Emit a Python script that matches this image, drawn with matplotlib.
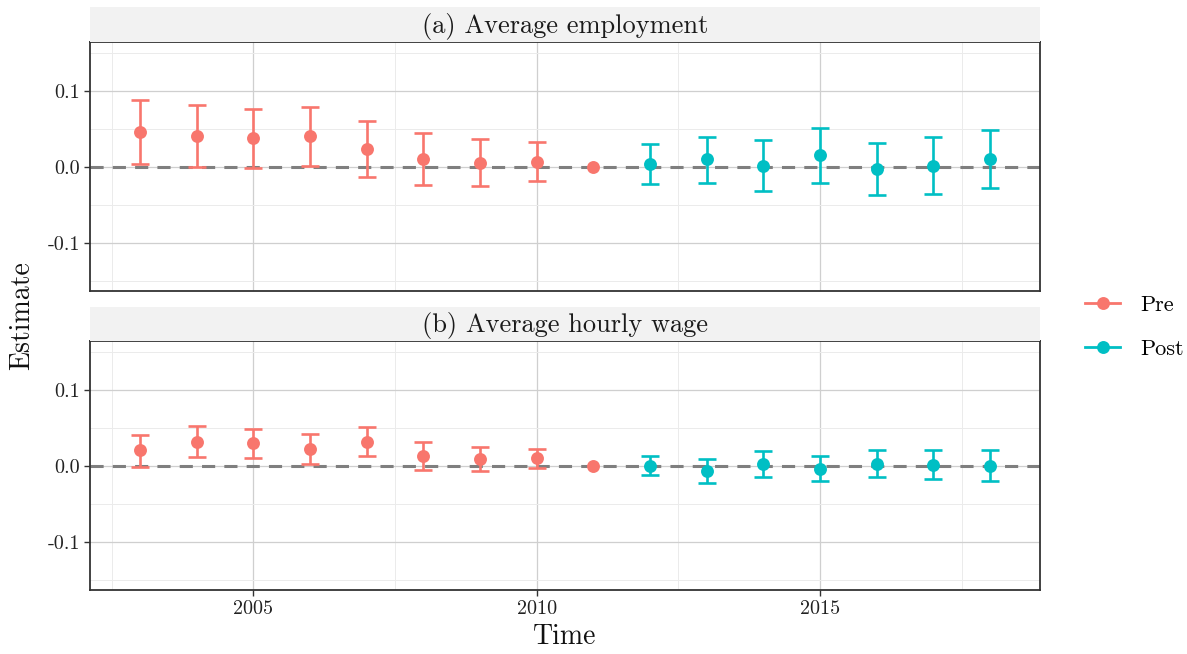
import matplotlib
matplotlib.use("Agg")
import matplotlib.pyplot as plt
from matplotlib.lines import Line2D
import numpy as np

years = [2003, 2004, 2005, 2006, 2007, 2008, 2009, 2010, 2011,
         2012, 2013, 2014, 2015, 2016, 2017, 2018]
period = ["Pre"] * 9 + ["Post"] * 7

emp_est = [0.0465, 0.041, 0.0377, 0.0404, 0.0232, 0.0105, 0.0057, 0.007, 0.0,
           0.0035, 0.0101, 0.0018, 0.0154, -0.0022, 0.0018, 0.011]
emp_lo = [0.004, 0.0004, -0.0018, 0.0018, -0.0136, -0.0237, -0.0254, -0.0184, None,
          -0.0228, -0.0215, -0.0316, -0.0215, -0.0373, -0.0355, -0.027]
emp_hi = [0.088, 0.0816, 0.0768, 0.079, 0.060, 0.0447, 0.0368, 0.0325, None,
          0.0303, 0.040, 0.035, 0.0518, 0.032, 0.039, 0.0487]

wage_est = [0.0204, 0.0322, 0.030, 0.022, 0.032, 0.0135, 0.0088, 0.0108, 0.0,
            0.0, -0.0069, 0.0024, -0.0035, 0.0030, 0.0018, 0.0005]
wage_lo = [-0.0007, 0.0116, 0.0102, 0.0028, 0.0128, -0.005, -0.0069, -0.0025, None,
           -0.0125, -0.023, -0.0148, -0.020, -0.0148, -0.0175, -0.0195]
wage_hi = [0.0414, 0.0523, 0.049, 0.0423, 0.051, 0.031, 0.0245, 0.023, None,
           0.0128, 0.0093, 0.0195, 0.0138, 0.0206, 0.021, 0.0214]

panel_titles = ["(a) Average employment", "(b) Average hourly wage"]
x_ticks = [2005, 2010, 2015]
y_ticks = [-0.1, 0.0, 0.1]
y_tick_labels = ["-0.1", "0.0", "0.1"]
colors = {"Pre": "#F8766D", "Post": "#00BFC4"}

plt.rcParams["font.family"] = ["cmr10", "DejaVu Serif"]
plt.rcParams["axes.unicode_minus"] = False

W, H = 1187, 654
fig = plt.figure(figsize=(W / 100, H / 100), dpi=100)

def fx(px):
    return px / W

def fy(py):
    return 1 - py / H

panels = [
    (emp_est, emp_lo, emp_hi, 42, 291, 7),
    (wage_est, wage_lo, wage_hi, 341, 590, 307),
]

axes = []
for i, (est, lo, hi, top, bot, strip_top) in enumerate(panels):
    ax = fig.add_axes([fx(90), fy(bot), fx(1040) - fx(90), fy(top) - fy(bot)])
    axes.append(ax)
    ax.set_xlim(2002.12, 2018.88)
    ax.set_ylim(-0.1632, 0.1645)
    ax.set_xticks(x_ticks)
    ax.set_xticks([2002.5, 2007.5, 2012.5, 2017.5], minor=True)
    ax.set_yticks(y_ticks)
    ax.set_yticks([-0.15, -0.05, 0.05, 0.15], minor=True)
    ax.set_yticklabels(y_tick_labels, fontsize=14.5)
    ax.grid(which="major", color="#CFCFCF", linewidth=0.9)
    ax.grid(which="minor", color="#EBEBEB", linewidth=0.7)
    ax.set_axisbelow(True)
    ax.tick_params(which="minor", length=0)
    ax.tick_params(which="major", length=4, width=1.0, color="#333333",
                   labelcolor="#222222", labelsize=14.5, pad=3)
    for s in ax.spines.values():
        s.set_color("#333333")
        s.set_linewidth(1.3)
    if i == 0:
        ax.tick_params(axis="x", labelbottom=False, length=0)
    else:
        ax.set_xticklabels([str(t) for t in x_ticks], fontsize=14.5)

    ax.axhline(0, color="#7F7F7F", linewidth=2.2, linestyle=(0, (4.3, 3)), zorder=1)

    for p in ["Pre", "Post"]:
        idx = [k for k in range(len(years)) if period[k] == p]
        xs = [years[k] for k in idx]
        ys = [est[k] for k in idx]
        eidx = [k for k in idx if lo[k] is not None]
        ex = [years[k] for k in eidx]
        ey = [est[k] for k in eidx]
        el = [est[k] - lo[k] for k in eidx]
        eh = [hi[k] - est[k] for k in eidx]
        ax.errorbar(ex, ey, yerr=[el, eh], fmt="none", ecolor=colors[p],
                    elinewidth=1.9, capsize=6.2, capthick=1.9, zorder=3)
        ax.plot(xs, ys, "o", color=colors[p], markersize=9.3,
                markeredgewidth=0, zorder=4)

    sax = fig.add_axes([fx(90), fy(top), fx(1040) - fx(90), fy(strip_top) - fy(top)])
    sax.set_facecolor("#F2F2F2")
    sax.set_xticks([])
    sax.set_yticks([])
    for s in sax.spines.values():
        s.set_visible(False)
    sax.text(0.5, 0.45, panel_titles[i], ha="center", va="center",
             fontsize=19, color="#1A1A1A", transform=sax.transAxes)

fig.text(fx(565), fy(637), "Time", ha="center", va="center", fontsize=20,
         color="#111111")
fig.text(fx(22), fy(316), "Estimate", ha="center", va="center", fontsize=20,
         rotation=90, color="#111111")

handles = [Line2D([0], [0], color=colors[p], marker="o", markersize=9.3,
                  markeredgewidth=0, linewidth=2.0) for p in ["Pre", "Post"]]
fig.legend(handles, ["Pre", "Post"], loc="center left",
           bbox_to_anchor=(fx(1076), fy(327)), frameon=False, fontsize=16,
           handlelength=1.6, labelspacing=1.1, handletextpad=0.9,
           borderaxespad=0)

fig.savefig("out.png", dpi=100)
